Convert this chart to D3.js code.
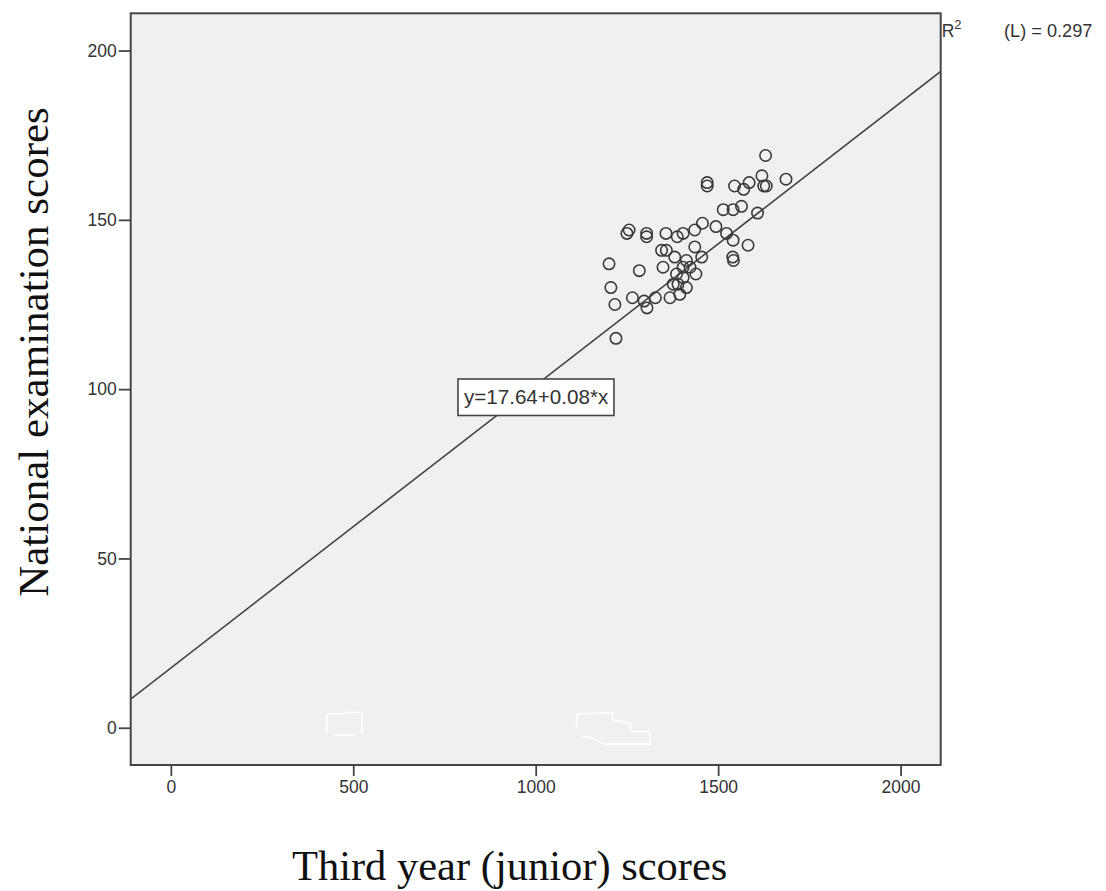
<!DOCTYPE html>
<html>
<head>
<meta charset="utf-8">
<script src="https://cdn.jsdelivr.net/npm/d3@7"></script>
<style>
  html, body { margin: 0; padding: 0; background: #ffffff; }
  svg { display: block; }
</style>
</head>
<body>
<svg id="chart" width="1106" height="891"></svg>
<script>
// ---- data ----
const juniorScores = [
  1630, 1470, 1470, 1545, 1570, 1585, 1620, 1625, 1632, 1686,
  1514, 1541, 1564, 1608, 1250, 1256, 1304, 1304, 1357, 1388,
  1404, 1436, 1457, 1494, 1523, 1541, 1582, 1345, 1358, 1436,
  1201, 1284, 1206, 1217, 1220, 1265, 1297, 1305, 1328, 1368,
  1395, 1413, 1377, 1390, 1349, 1381, 1413, 1423, 1439, 1455,
  1540, 1542, 1386, 1404, 1404
];
const nationalScores = [
  169, 161, 160, 160, 159, 161, 163, 160, 160, 162,
  153, 153, 154, 152, 146, 147, 146, 145, 146, 145,
  146, 147, 149, 148, 146, 144, 142.5, 141, 141, 142,
  137, 135, 130, 125, 115, 127, 126, 124, 127, 127,
  128, 130, 131, 131, 136, 139, 138, 136, 134, 139,
  139, 138, 134, 136, 133
];
const xTicks = [0, 500, 1000, 1500, 2000];
const yTicks = [0, 50, 100, 150, 200];
const fitIntercept = 17.64;
const fitSlope = 0.0835;          // drawn slope (label rounds it to 0.08)
const fitLabel = "y=17.64+0.08*x";
const r2Value = "0.297";
const xTitle = "Third year (junior) scores";
const yTitle = "National examination scores";
const xDomain = [-110, 2110];
const yDomain = [-11, 211];
const labelAnchor = [787, 103];   // data position of the equation box's top-left

// ---- layout ----
const svg = d3.select("#chart");
const pLeft = 130.7, pRight = 940.7, pTop = 13.3, pBottom = 765;
const x = d3.scaleLinear().domain(xDomain).range([pLeft, pRight]);
const y = d3.scaleLinear().domain(yDomain).range([pBottom, pTop]);
const ink = "#454545";
const sans = "'Liberation Sans', Arial, sans-serif";
const serif = "'Liberation Serif', 'Times New Roman', serif";

// plot background
svg.append("rect")
  .attr("x", pLeft).attr("y", pTop)
  .attr("width", pRight - pLeft).attr("height", pBottom - pTop)
  .attr("fill", "#f0f0f0");

// faint white artefacts near the x axis (as in the reference image)
const deco = svg.append("g").attr("fill", "none").attr("stroke", "#ffffff")
  .attr("stroke-width", 1.4).attr("stroke-linejoin", "round");
deco.append("path").attr("d", "M327,733 L327,714 L342,714 L348,712.5 L362,712.5 L362,734 M335,735 L354,735");
deco.append("path").attr("d", "M576,729 L577,714 L612,712.5 L613,720 L630,723 L632,731.5 L650,731.5 L650,744 L603,744 L590,737 L583,737");

// clip for the fit line
svg.append("clipPath").attr("id", "plotclip")
  .append("rect").attr("x", pLeft).attr("y", pTop)
  .attr("width", pRight - pLeft).attr("height", pBottom - pTop);

// regression line
const fit = v => fitIntercept + fitSlope * v;
svg.append("line")
  .attr("clip-path", "url(#plotclip)")
  .attr("x1", x(xDomain[0])).attr("y1", y(fit(xDomain[0])))
  .attr("x2", x(xDomain[1])).attr("y2", y(fit(xDomain[1])))
  .attr("stroke", ink).attr("stroke-width", 1.6);

// points
svg.append("g").selectAll("circle")
  .data(juniorScores.map((v, i) => [v, nationalScores[i]]))
  .join("circle")
  .attr("cx", d => x(d[0]))
  .attr("cy", d => y(d[1]))
  .attr("r", 5.7)
  .attr("fill", "none")
  .attr("stroke", "#3a3a3a")
  .attr("stroke-width", 1.6);

// equation box
const eq = svg.append("g");
const eqText = eq.append("text")
  .attr("x", x(labelAnchor[0]) + 6)
  .attr("y", y(labelAnchor[1]) + 25.5)
  .attr("font-family", sans).attr("font-size", 20.6)
  .attr("fill", "#333")
  .text(fitLabel);
const bb = eqText.node().getBBox();
eq.insert("rect", "text")
  .attr("x", x(labelAnchor[0]))
  .attr("y", y(labelAnchor[1]))
  .attr("width", bb.width + 11)
  .attr("height", 36.5)
  .attr("fill", "#ffffff")
  .attr("stroke", ink).attr("stroke-width", 1.6);

// axes
const xAxis = svg.append("g")
  .attr("transform", `translate(0,${pBottom})`)
  .call(d3.axisBottom(x).tickValues(xTicks).tickSize(11).tickPadding(5).tickFormat(d3.format("d")));
const yAxis = svg.append("g")
  .attr("transform", `translate(${pLeft},0)`)
  .call(d3.axisLeft(y).tickValues(yTicks).tickSize(12).tickPadding(2).tickFormat(d3.format("d")));
[xAxis, yAxis].forEach(a => {
  a.select(".domain").remove();
  a.selectAll(".tick line").attr("stroke", ink).attr("stroke-width", 1.8);
  a.selectAll(".tick text").attr("font-family", sans).attr("font-size", 17.5).attr("fill", "#333");
});

// frame
svg.append("rect")
  .attr("x", pLeft).attr("y", pTop)
  .attr("width", pRight - pLeft).attr("height", pBottom - pTop)
  .attr("fill", "none").attr("stroke", ink).attr("stroke-width", 2);

// R² legend
const r2 = svg.append("text")
  .attr("x", pRight + 1).attr("y", 37)
  .attr("font-family", sans).attr("font-size", 17.5).attr("fill", "#333");
r2.append("tspan").text("R");
r2.append("tspan").attr("dy", -8).attr("font-size", 13).text("2");
svg.append("text")
  .attr("x", 1004).attr("y", 37)
  .attr("font-family", sans).attr("font-size", 18.2).attr("fill", "#333")
  .text("(L) = " + r2Value);

// axis titles
svg.append("text")
  .attr("x", (pLeft + pRight) / 2 - 26).attr("y", 880)
  .attr("text-anchor", "middle")
  .attr("font-family", serif).attr("font-size", 42.5).attr("fill", "#111")
  .text(xTitle);
svg.append("text")
  .attr("transform", "translate(48,352) rotate(-90)")
  .attr("text-anchor", "middle")
  .attr("font-family", serif).attr("font-size", 43).attr("fill", "#111")
  .text(yTitle);
</script>
</body>
</html>
